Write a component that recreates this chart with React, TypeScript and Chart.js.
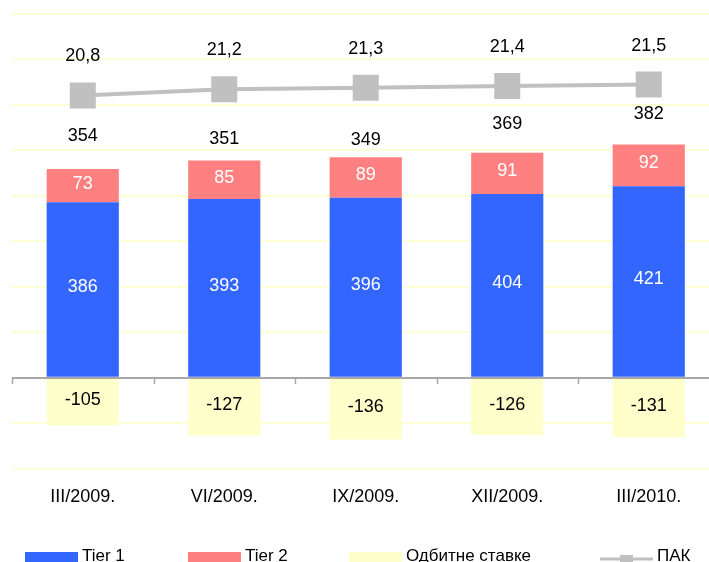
import React, { useEffect, useRef } from 'react';
import { Chart, registerables } from 'chart.js';

Chart.register(...registerables);

// ---- data ----
const categories = ['III/2009.', 'VI/2009.', 'IX/2009.', 'XII/2009.', 'III/2010.'];
const tier1 = [386, 393, 396, 404, 421];
const tier2 = [73, 85, 89, 91, 92];
const deductions = [-105, -127, -136, -126, -131];
const totals = [354, 351, 349, 369, 382];
const pak = [20.8, 21.2, 21.3, 21.4, 21.5];
const seriesNames = ['Tier 1', 'Tier 2', 'Одбитне ставке', 'ПАК', 'Укупно'];
const yMin = -200;
const yMax = 800;
const yStep = 100;

const FONT = '"Liberation Sans", Arial, Helvetica, sans-serif';
const fmt1 = (v: number) => v.toFixed(1).replace('.', ',');

const overlayPlugin = {
  id: 'overlay',
  afterDatasetsDraw(chart: any) {
    const { ctx, chartArea, scales } = chart;
    const y = scales.y;
    ctx.save();
    const y0 = Math.round(y.getPixelForValue(0));
    ctx.strokeStyle = '#A8A8A8';
    ctx.lineWidth = 2;
    ctx.beginPath();
    ctx.moveTo(chartArea.left, y0);
    ctx.lineTo(chartArea.right, y0);
    ctx.stroke();
    const n = categories.length;
    const w = (chartArea.right - chartArea.left) / n;
    ctx.lineWidth = 1.5;
    for (let i = 0; i <= n; i++) {
      const px = Math.round(chartArea.left + i * w) + 0.5;
      ctx.beginPath();
      ctx.moveTo(px, y0);
      ctx.lineTo(px, y0 + 6);
      ctx.stroke();
    }

    ctx.font = `18px ${FONT}`;
    ctx.textAlign = 'center';
    ctx.textBaseline = 'middle';
    chart.data.datasets.forEach((ds: any, di: number) => {
      const meta = chart.getDatasetMeta(di);
      meta.data.forEach((el: any, i: number) => {
        const v = ds.data[i] as number;
        if (di <= 2) {
          const c = el.getCenterPoint();
          ctx.fillStyle = di < 2 ? '#FFFFFF' : '#000000';
          ctx.fillText(String(v), c.x, c.y - 2);
        } else if (di === 3) {
          ctx.fillStyle = '#000000';
          ctx.fillText(fmt1(v), el.x, el.y - 39);
        } else {
          ctx.fillStyle = '#000000';
          ctx.fillText(String(v), el.x, el.y);
        }
      });
    });
    ctx.restore();
  },
};

const legendPlugin = {
  id: 'customLegend',
  afterDraw(chart: any) {
    const ctx = chart.ctx;
    ctx.save();
    ctx.font = `17px ${FONT}`;
    ctx.textAlign = 'left';
    ctx.textBaseline = 'alphabetic';
    const starts = [25, 188, 349, 600];
    const boxW = 53;
    const boxTop = 552;
    const boxH = 12;
    const baseline = 560.5;
    for (let i = 0; i < 4; i++) {
      const ds = chart.data.datasets[i];
      const x = starts[i];
      if (i < 3) {
        ctx.fillStyle = ds.backgroundColor;
        ctx.fillRect(x, boxTop, boxW, boxH);
      } else {
        ctx.strokeStyle = ds.borderColor;
        ctx.lineWidth = 3;
        ctx.beginPath();
        ctx.moveTo(x, 559);
        ctx.lineTo(x + boxW, 559);
        ctx.stroke();
        ctx.fillStyle = ds.borderColor;
        ctx.fillRect(x + boxW / 2 - 6.5, 555, 13, 13);
      }
      ctx.fillStyle = '#000000';
      ctx.fillText(ds.label, x + boxW + 4, baseline);
    }
    ctx.restore();
  },
};

export default function App() {
  const ref = useRef<HTMLCanvasElement | null>(null);

  useEffect(() => {
    if (!ref.current) return;
    const chart = new Chart(ref.current, {
      type: 'bar',
      data: {
        labels: categories,
        datasets: [
          {
            type: 'bar',
            label: seriesNames[0],
            data: tier1,
            backgroundColor: '#3366FF',
            borderWidth: 0,
            yAxisID: 'y',
            order: 2,
          },
          {
            type: 'bar',
            label: seriesNames[1],
            data: tier2,
            backgroundColor: '#FF8080',
            borderWidth: 0,
            yAxisID: 'y',
            order: 2,
          },
          {
            type: 'bar',
            label: seriesNames[2],
            data: deductions,
            backgroundColor: '#FFFFCC',
            borderWidth: 0,
            yAxisID: 'y',
            order: 2,
          },
          {
            type: 'line',
            label: seriesNames[3],
            data: pak,
            yAxisID: 'y2',
            borderColor: '#C0C0C0',
            backgroundColor: '#C0C0C0',
            borderWidth: 4,
            pointStyle: 'rect',
            pointRadius: 18.4,
            pointBorderWidth: 0,
            pointBackgroundColor: '#C0C0C0',
            tension: 0,
            order: 1,
          },
          {
            type: 'line',
            label: seriesNames[4],
            data: totals,
            yAxisID: 'y3',
            showLine: false,
            pointRadius: 0,
            borderWidth: 0,
            order: 0,
          },
        ] as any,
      },
      options: {
        animation: false,
        responsive: false,
        devicePixelRatio: 1,
        layout: { autoPadding: false, padding: { top: 14, left: 12, right: 2.5, bottom: 36.6 } },
        datasets: {
          bar: { categoryPercentage: 1, barPercentage: 0.51 },
        } as any,
        plugins: {
          legend: { display: false },
          tooltip: { enabled: false },
          title: { display: false },
        },
        scales: {
          x: {
            type: 'category',
            stacked: true,
            offset: true,
            grid: { display: false, drawTicks: false },
            border: { display: false },
            ticks: {
              color: '#000000',
              font: { size: 18, family: FONT },
              padding: 17.6,
              maxRotation: 0,
              autoSkip: false,
            },
          },
          y: {
            stacked: true,
            min: yMin,
            max: yMax,
            ticks: { display: false, stepSize: yStep },
            grid: {
              color: (c: any) => (c.tick && c.tick.value === 0 ? 'rgba(0,0,0,0)' : '#FFFFD5'),
              lineWidth: 2,
              drawTicks: false,
            },
            border: { display: false },
          },
          y2: { display: false, min: -3, max: 26 },
          y3: { display: false, min: -59, max: 506 },
        },
      } as any,
      plugins: [overlayPlugin, legendPlugin],
    });
    return () => chart.destroy();
  }, []);

  return (
    <div
      style={{
        position: 'absolute',
        left: 0,
        top: 0,
        width: 709,
        height: 562,
        overflow: 'hidden',
        background: '#FFFFFF',
      }}
    >
      <canvas ref={ref} width={722} height={562} style={{ width: 722, height: 562, display: 'block' }} />
    </div>
  );
}
